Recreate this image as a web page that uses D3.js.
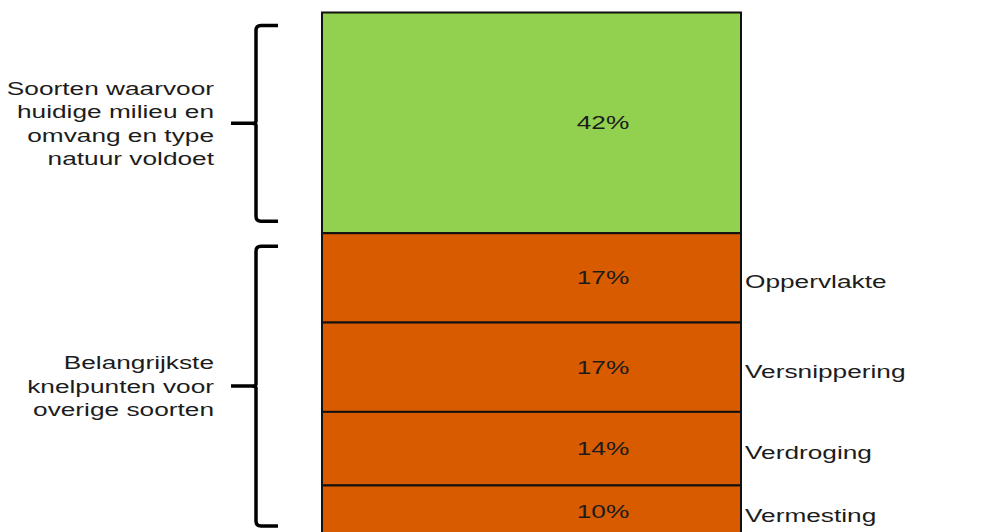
<!DOCTYPE html>
<html>
<head>
<meta charset="utf-8">
<script src="https://cdn.jsdelivr.net/npm/d3@7"></script>
<style>
  html, body { margin: 0; padding: 0; background: #ffffff; }
  svg { display: block; }
  text { font-family: "Liberation Sans", Arial, sans-serif; fill: #1c1c1c; }
</style>
</head>
<body>
<svg id="chart" width="996" height="532"></svg>
<script>
// Stacked shares of species (percent), top to bottom
const segments = ["Soorten", "Oppervlakte", "Versnippering", "Verdroging", "Vermesting"];
const shares = [42, 17, 17, 14, 10];
const sideLabels = ["", "Oppervlakte", "Versnippering", "Verdroging", "Vermesting"];
const groupOf = [0, 1, 1, 1, 1];
const groupLabels = [
  ["Soorten waarvoor", "huidige milieu en", "omvang en type", "natuur voldoet"],
  ["Belangrijkste", "knelpunten voor", "overige soorten"]
];
const groupColors = ["#92d050", "#d95b00"];

// Labels are set in a horizontally widened face
const FONT = 18.5, WIDEN = 1.42;
const place = (px, py) => `translate(${px},${py}) scale(${WIDEN},1)`;

const svg = d3.select("#chart");

// Cumulative stacking of the shares
const stacked = [];
let acc = 0;
shares.forEach((v, i) => {
  stacked.push({ key: segments[i], value: v, y0: acc, y1: acc + v, group: groupOf[i], side: sideLabels[i] });
  acc += v;
});

const y = d3.scaleLinear().domain([0, 100]).range([12.5, 538]);
const x = d3.scaleBand().domain(["bar"]).range([322, 741]).padding(0);

const bar = svg.append("g");

bar.selectAll("rect.seg")
  .data(stacked)
  .join("rect")
  .attr("class", "seg")
  .attr("x", x("bar"))
  .attr("width", x.bandwidth())
  .attr("y", d => y(d.y0))
  .attr("height", d => y(d.y1) - y(d.y0))
  .attr("fill", d => groupColors[d.group])
  .attr("stroke", "#111")
  .attr("stroke-width", 2);

// Percentage inside each segment
bar.selectAll("text.pct")
  .data(stacked)
  .join("text")
  .attr("class", "pct")
  .attr("transform", d => place(x("bar") + 281, (y(d.y0) + y(d.y1)) / 2))
  .attr("dy", "0.35em")
  .attr("text-anchor", "middle")
  .style("font-size", FONT + "px")
  .text(d => d.value + "%");

// Cause labels to the right of the bar
svg.selectAll("text.side")
  .data(stacked.filter(d => d.side))
  .join("text")
  .attr("class", "side")
  .attr("transform", d => place(745, (y(d.y0) + y(d.y1)) / 2 + 4))
  .attr("dy", "0.35em")
  .style("font-size", FONT + "px")
  .text(d => d.side);

// Curly braces grouping the segments, with their descriptions
const groups = d3.groups(stacked, d => d.group).map(([g, rows]) => ({
  g,
  top: y(d3.min(rows, r => r.y0)),
  bot: y(d3.max(rows, r => r.y1))
}));

const xv = 256;
function bracePath(t, b) {
  const m = (t + b) / 2, r = 5;
  return `M${xv + 22},${t} L${xv + r},${t} Q${xv},${t} ${xv},${t + r}` +
         ` L${xv},${m - 2} Q${xv},${m} ${xv - 4},${m} L${xv - 25},${m}` +
         ` M${xv - 4},${m} Q${xv},${m} ${xv},${m + 2}` +
         ` L${xv},${b - r} Q${xv},${b} ${xv + r},${b} L${xv + 22},${b}`;
}

groups.forEach(gr => {
  const t = gr.top + 13, b = gr.bot - 12;
  svg.append("path")
    .attr("d", bracePath(t, b))
    .attr("fill", "none")
    .attr("stroke", "#000")
    .attr("stroke-width", 3.5)
    .attr("stroke-linecap", "butt");

  const lines = groupLabels[gr.g];
  const lh = 23.5;
  const mid = (t + b) / 2;
  svg.append("g")
    .selectAll("text")
    .data(lines)
    .join("text")
    .attr("text-anchor", "end")
    .style("font-size", FONT + "px")
    .attr("transform", (d, i) => place(214, mid + (i - (lines.length - 1) / 2) * lh))
    .attr("dy", "0.35em")
    .text(d => d);
});
</script>
</body>
</html>
